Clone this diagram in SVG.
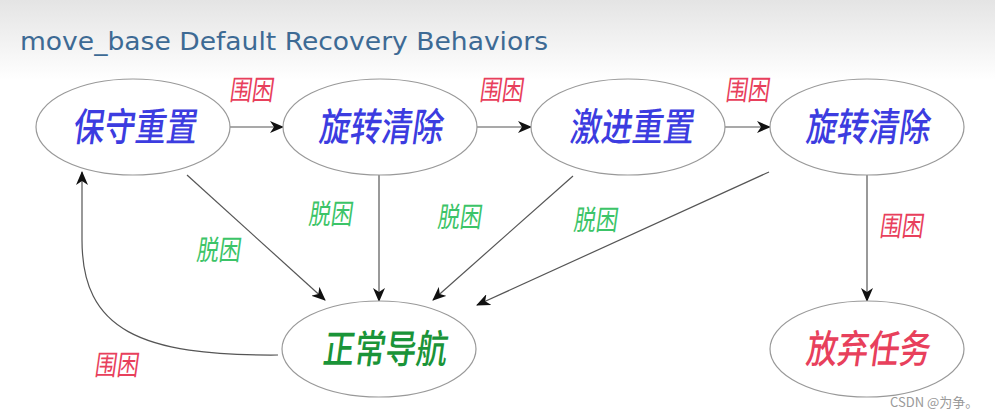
<svg xmlns="http://www.w3.org/2000/svg" width="995" height="419" viewBox="0 0 995 419">
<defs>
<linearGradient id="bg" x1="0" y1="0" x2="0" y2="1">
<stop offset="0" stop-color="#e4e4e4"/>
<stop offset="1" stop-color="#ffffff"/>
</linearGradient>
<marker id="ah" viewBox="0 0 14 12" refX="13" refY="6" markerWidth="14" markerHeight="12" markerUnits="userSpaceOnUse" orient="auto">
<path d="M0,0 L14,6 L0,12 L4,6 Z" fill="#111"/>
</marker>
<style>
.node ellipse{fill:#fff;stroke:#999;stroke-width:1.2}
.nt{font-family:"Noto Sans CJK SC","Noto Sans",sans-serif;font-size:39px;font-weight:500;text-anchor:middle}
.blue{fill:#3c3ce0}
.lab{font-family:"Noto Sans CJK SC","Noto Sans",sans-serif;font-size:28px;font-weight:normal}
.red{fill:#e8405c}
.grn{fill:#3cc468}
#connectors path{fill:none;stroke:#555;stroke-width:1.2;marker-end:url(#ah)}
</style>
</defs>
<rect x="0" y="0" width="995" height="80" fill="url(#bg)"/>
<rect x="0" y="80" width="995" height="339" fill="#fff"/>
<text x="20" y="50" font-family="DejaVu Sans, sans-serif" font-size="25" fill="#3d6a94" textLength="528" lengthAdjust="spacingAndGlyphs">move_base Default Recovery Behaviors</text>
<g id="connectors">
<path d="M230,127 L283,127"/>
<path d="M476,127 L531,127"/>
<path d="M725,127 L770,127"/>
<path d="M187,175 L325,300"/>
<path d="M379,175 L379,301"/>
<path d="M573,176 L433,300"/>
<path d="M769,172 L477,305"/>
<path d="M867,175 L867,301"/>
<path d="M278,355 C140,356 82,330 82,240 L82,172"/>
</g>
<g id="n1" class="node"><ellipse cx="133" cy="127" rx="97" ry="48"/><text class="nt blue" transform="translate(134,141) skewX(-8)" textLength="124" lengthAdjust="spacingAndGlyphs">保守重置</text></g>
<g id="n2" class="node"><ellipse cx="380" cy="127" rx="97" ry="48"/><text class="nt blue" transform="translate(380,141) skewX(-8)" textLength="124" lengthAdjust="spacingAndGlyphs">旋转清除</text></g>
<g id="n3" class="node"><ellipse cx="628" cy="127" rx="97" ry="48"/><text class="nt blue" transform="translate(631,141) skewX(-8)" textLength="124" lengthAdjust="spacingAndGlyphs">激进重置</text></g>
<g id="n4" class="node"><ellipse cx="867" cy="127" rx="97" ry="48"/><text class="nt blue" transform="translate(867,141) skewX(-8)" textLength="124" lengthAdjust="spacingAndGlyphs">旋转清除</text></g>
<g id="n5" class="node"><ellipse cx="379" cy="349" rx="97" ry="48"/><text class="nt" fill="#1a9438" transform="translate(384,363) skewX(-8)" textLength="124" lengthAdjust="spacingAndGlyphs">正常导航</text></g>
<g id="n6" class="node"><ellipse cx="867" cy="349" rx="97" ry="48"/><text class="nt red" transform="translate(867,363) skewX(-8)" textLength="124" lengthAdjust="spacingAndGlyphs">放弃任务</text></g>
<g id="labels">
<text class="lab red" transform="translate(229,100) skewX(-8)" textLength="44" lengthAdjust="spacingAndGlyphs">围困</text>
<text class="lab red" transform="translate(479,100) skewX(-8)" textLength="44" lengthAdjust="spacingAndGlyphs">围困</text>
<text class="lab red" transform="translate(725,100) skewX(-8)" textLength="44" lengthAdjust="spacingAndGlyphs">围困</text>
<text class="lab grn" transform="translate(196,260) skewX(-8)" textLength="44" lengthAdjust="spacingAndGlyphs">脱困</text>
<text class="lab grn" transform="translate(308,224) skewX(-8)" textLength="44" lengthAdjust="spacingAndGlyphs">脱困</text>
<text class="lab grn" transform="translate(437,227) skewX(-8)" textLength="44" lengthAdjust="spacingAndGlyphs">脱困</text>
<text class="lab grn" transform="translate(573,230) skewX(-8)" textLength="44" lengthAdjust="spacingAndGlyphs">脱困</text>
<text class="lab red" transform="translate(94,375) skewX(-8)" textLength="44" lengthAdjust="spacingAndGlyphs">围困</text>
<text class="lab red" transform="translate(879,236) skewX(-8)" textLength="44" lengthAdjust="spacingAndGlyphs">围困</text>
</g>
<text x="890" y="407" font-family="Noto Sans CJK SC, sans-serif" font-size="13" fill="#999">CSDN @为争。</text>
</svg>
